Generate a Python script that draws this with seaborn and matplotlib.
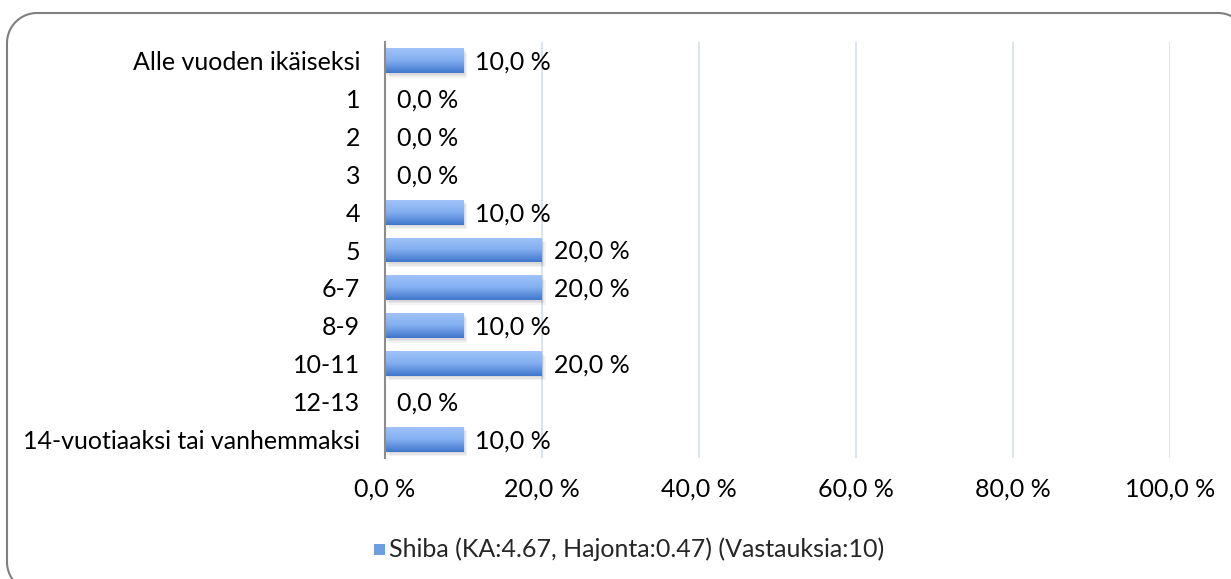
import matplotlib
matplotlib.use("Agg")
import matplotlib.pyplot as plt
import numpy as np
import pandas as pd
import seaborn as sns
from matplotlib.patches import PathPatch, Rectangle
from matplotlib.path import Path

categories = ["Alle vuoden ikäiseksi", "1", "2", "3", "4", "5", "6-7", "8-9",
              "10-11", "12-13", "14-vuotiaaksi tai vanhemmaksi"]
values = [10.0, 0.0, 0.0, 0.0, 10.0, 20.0, 20.0, 10.0, 20.0, 0.0, 10.0]
series_label = "Shiba (KA:4.67, Hajonta:0.47) (Vastauksia:10)"
xticks = [0, 20, 40, 60, 80, 100]

sns.set_theme(style="white")
plt.rcParams["font.family"] = ["Lato", "DejaVu Sans"]
FS = 18

df = pd.DataFrame({"cat": categories, "val": values})

W, H = 1231, 579
fig = plt.figure(figsize=(W / 100, H / 100), dpi=100)
ax = fig.add_axes([385 / W, 1 - 458 / H, 785 / W, 416 / H])

sns.barplot(data=df, x="val", y="cat", orient="h", ax=ax, width=0.66,
            color="#6b9be0", saturation=1, edgecolor="none")

# gradient fill + soft shadow on each bar
grad = np.linspace(0, 1, 64).reshape(-1, 1)
cmap = matplotlib.colors.LinearSegmentedColormap.from_list(
    "g", ["#a0c3f9", "#82aef0", "#3f76cb"])
for p in list(ax.patches):
    x0, y0 = p.get_x(), p.get_y()
    w, h = p.get_width(), p.get_height()
    if w <= 0:
        continue
    for k in range(3):
        sh = Rectangle((x0 + 0.15 * (k + 1), y0 + 0.04 * (k + 1)), w, h,
                       facecolor="#000000", alpha=0.05, edgecolor="none", zorder=1.5)
        ax.add_patch(sh)
    p.set_zorder(2)
    im = ax.imshow(grad, extent=(x0, x0 + w, y0 + h, y0), cmap=cmap, aspect="auto",
                   zorder=2.5, interpolation="bicubic")
    im.set_clip_path(p)

for i, v in enumerate(values):
    ax.text(v + 1.5, i + 0.04, f"{v:.1f} %".replace(".", ","), va="center", ha="left",
            fontsize=FS, color="#000000", zorder=4)

ax.set_xlim(0, 100)
ax.set_ylim(len(categories) - 0.5, -0.5)
ax.set_xticks(xticks)
ax.set_xticklabels([f"{t:.1f} %".replace(".", ",") for t in xticks], fontsize=FS)
ax.tick_params(axis="y", labelsize=FS, length=0, pad=18, colors="#000000")
ax.tick_params(axis="x", length=0, pad=14, colors="#000000")
ax.set_xlabel("")
ax.set_ylabel("")
ax.grid(axis="x", color="#d6e0ea", linewidth=1.2)
ax.set_axisbelow(True)
for s in ["top", "right", "bottom"]:
    ax.spines[s].set_visible(False)
ax.spines["left"].set_color("#8c8c8c")
ax.spines["left"].set_linewidth(1.5)
ax.spines["left"].set_zorder(5)

# legend
fig.patches.append(Rectangle((374 / W, 1 - 555 / H), 11 / W, 11 / H,
                             transform=fig.transFigure, facecolor="#6f9de2",
                             edgecolor="none"))
fig.text(389 / W, 1 - 549 / H, series_label, fontsize=FS, va="center", ha="left")

# rounded outer border: open path in pixel coords (y measured from top)
r = 30
left, top, right, bottom = 7, 13, 1248, 592
pts = []
for cx, cy, a0, a1 in [(left + r, bottom - r, 90, 180),
                       (left + r, top + r, 180, 270),
                       (right - r, top + r, 270, 350)]:
    for t in np.radians(np.linspace(a0, a1, 20)):
        pts.append((cx + r * np.cos(t), H - (cy + r * np.sin(t))))
border = PathPatch(Path(pts), transform=None, facecolor="none",
                   edgecolor="#7f7f7f", linewidth=1.5)
fig.patches.append(border)

fig.savefig("out.png", dpi=100)
